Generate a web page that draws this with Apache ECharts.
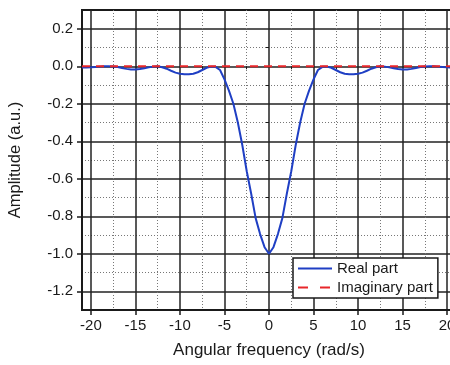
<!DOCTYPE html>
<html>
<head>
<meta charset="utf-8">
<script src="https://cdn.jsdelivr.net/npm/echarts@6/dist/echarts.min.js"></script>
<style>
  html, body { margin: 0; padding: 0; background: #fff; }
  #chart { width: 450px; height: 365px; }
</style>
</head>
<body>
<div id="chart"></div>
<script>
// angular frequency samples (rad/s)
const freq = [
  -21, -20.5, -20, -19.5, -19, -18.5, -18, -17.5, -17, -16.5, -16, -15.5, -15, -14.5, -14, -13.5,
  -13, -12.5, -12, -11.5, -11, -10.5, -10, -9.5, -9, -8.5, -8, -7.5, -7, -6.5, -6, -5.5,
  -5, -4.5, -4, -3.5, -3, -2.5, -2, -1.5, -1, -0.5, 0,
  0.5, 1, 1.5, 2, 2.5, 3, 3.5, 4, 4.5, 5, 5.5, 6, 6.5, 7, 7.5, 8, 8.5, 9, 9.5,
  10, 10.5, 11, 11.5, 12, 12.5, 13, 13.5, 14, 14.5, 15, 15.5, 16, 16.5, 17, 17.5,
  18, 18.5, 19, 19.5, 20, 20.5, 21
];
// real part
const realPart = [
  -0.007, -0.007, -0.006, -0.004, -0.002, 0.000, 0.000, -0.001, -0.004, -0.009, -0.014, -0.017, -0.017, -0.015, -0.011, -0.006,
  -0.002, 0.000, -0.005, -0.013, -0.024, -0.034, -0.040, -0.043, -0.043, -0.040, -0.032, -0.020, -0.008, -0.002, -0.003, -0.02,
  -0.07, -0.13, -0.20, -0.30, -0.42, -0.56, -0.68, -0.81, -0.895, -0.965, -1.00,
  -0.965, -0.895, -0.81, -0.68, -0.56, -0.42, -0.30, -0.20, -0.13, -0.07, -0.02, -0.003, -0.002, -0.008, -0.020, -0.032, -0.040, -0.043, -0.043,
  -0.040, -0.034, -0.024, -0.013, -0.005, 0.000, -0.002, -0.006, -0.011, -0.015, -0.017, -0.017, -0.014, -0.009, -0.004, -0.001,
  0.000, 0.000, -0.002, -0.004, -0.006, -0.007, -0.007
];
// imaginary part is zero everywhere
const imagPart = freq.map(() => 0);

const xMajor = [-20, -15, -10, -5, 0, 5, 10, 15, 20];
const xMinor = [-17.5, -12.5, -7.5, -2.5, 2.5, 7.5, 12.5, 17.5];
const yMajor = [0.2, 0, -0.2, -0.4, -0.6, -0.8, -1.0, -1.2];
const yMinor = [0.1, -0.1, -0.3, -0.5, -0.7, -0.9, -1.1];

const font = "'Liberation Sans', Arial, sans-serif";
const dark = '#1a1a1a';

const chart = echarts.init(document.getElementById('chart'));

chart.setOption({
  animation: false,
  textStyle: { fontFamily: font },
  grid: {
    left: 82, top: 10, width: 374, height: 300,
    outerBoundsMode: 'none', containLabel: false,
    show: true, borderColor: dark, borderWidth: 2
  },
  legend: {
    orient: 'vertical',
    left: 293, top: 258,
    itemWidth: 34, itemHeight: 10, itemGap: 4,
    padding: [3, 5, 3, 4],
    backgroundColor: '#fff',
    borderColor: dark, borderWidth: 1.5, borderRadius: 0,
    itemStyle: { opacity: 0 },
    textStyle: { fontSize: 15, color: dark, fontFamily: font },
    data: [
      { name: 'Real part' },
      { name: 'Imaginary part', lineStyle: { type: [10, 12] } }
    ]
  },
  xAxis: [
    {
      type: 'value', min: -21, max: 21, position: 'bottom',
      name: 'Angular frequency (rad/s)', nameLocation: 'middle', nameGap: 32,
      nameTextStyle: { fontSize: 17, color: dark },
      axisLine: { onZero: false, lineStyle: { color: dark, width: 2 } },
      axisTick: { customValues: xMajor, length: 5, lineStyle: { color: dark, width: 1.5 } },
      axisLabel: { customValues: xMajor, fontSize: 15, color: dark, margin: 8 },
      splitLine: { show: true, lineStyle: { color: '#222', width: 1.5 } }
    },
    {
      type: 'value', min: -21, max: 21, position: 'bottom',
      axisLine: { show: false },
      axisTick: { customValues: xMinor, length: 3, lineStyle: { color: dark } },
      axisLabel: { show: false },
      splitLine: { show: true, lineStyle: { color: '#777', width: 1, type: [1, 2] } }
    }
  ],
  yAxis: [
    {
      type: 'value', min: -1.3, max: 0.3,
      name: 'Amplitude (a.u.)', nameLocation: 'middle', nameGap: 58,
      nameTextStyle: { fontSize: 16.5, color: dark },
      axisLine: { onZero: false, lineStyle: { color: dark, width: 2 } },
      axisTick: { customValues: yMajor, length: 5, lineStyle: { color: dark, width: 1.5 } },
      axisLabel: {
        customValues: yMajor, fontSize: 15, color: dark, margin: 9,
        formatter: v => v.toFixed(1)
      },
      splitLine: { show: true, lineStyle: { color: '#222', width: 1.5 } }
    },
    {
      type: 'value', min: -1.3, max: 0.3, position: 'left',
      axisLine: { show: false },
      axisTick: { customValues: yMinor, length: 3, lineStyle: { color: dark } },
      axisLabel: { show: false },
      splitLine: { show: true, lineStyle: { color: '#777', width: 1, type: [1, 2] } }
    }
  ],
  series: [
    {
      name: 'Real part', type: 'line',
      data: freq.map((f, i) => [f, realPart[i]]),
      symbol: 'none', lineStyle: { color: '#1f3fc4', width: 2 },
      itemStyle: { color: '#1f3fc4' }
    },
    {
      name: 'Imaginary part', type: 'line',
      data: freq.map((f, i) => [f, imagPart[i]]),
      symbol: 'none', lineStyle: { color: '#e8262a', width: 2, type: [8, 6] },
      itemStyle: { color: '#e8262a' }
    }
  ]
});
</script>
</body>
</html>
